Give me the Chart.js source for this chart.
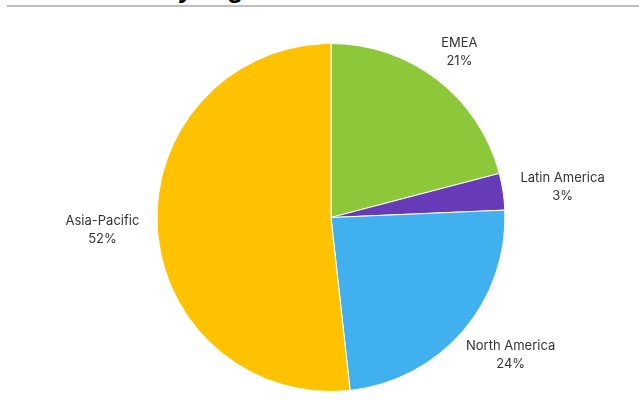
<!DOCTYPE html>
<html>
<head>
<meta charset="utf-8">
<script src="https://cdn.jsdelivr.net/npm/chart.js@4.4.0/dist/chart.umd.min.js"></script>
<style>
  html, body { margin: 0; padding: 0; background: #fff; overflow: hidden; }
  #wrap { position: relative; width: 639px; height: 419px; }
  #title {
    position: absolute; left: 7px; top: -25px;
    font: bold 24px Inter, sans-serif; color: #000; white-space: nowrap;
  }
  #rule { position: absolute; left: 7px; right: 0; top: 5px; height: 2px; background: #bfbfbf; }
  canvas { position: absolute; left: 0; top: 0; }
</style>
</head>
<body>
<div id="wrap">
  <div id="title">Revenue Mix by Region</div>
  <div id="rule"></div>
  <canvas id="chart" width="639" height="419"></canvas>
</div>
<script>
// Regions clockwise from 12 o'clock
const regions = ['EMEA', 'Latin America', 'North America', 'Asia-Pacific'];
const shares = [20.9, 3.4, 23.9, 51.7];
const sliceColors = ['#8cc83a', '#673ab7', '#41b0ee', '#ffc200'];

// Two-line outside labels: name, then rounded percent
const outsideLabels = {
  id: 'outsideLabels',
  afterDatasetsDraw(chart) {
    const ctx = chart.ctx;
    const meta = chart.getDatasetMeta(0);
    const lineH = 18;
    ctx.save();
    ctx.font = '13px Inter, sans-serif';
    ctx.fillStyle = '#333';
    ctx.textAlign = 'center';
    ctx.textBaseline = 'middle';
    meta.data.forEach((arc, i) => {
      const { x, y, startAngle, endAngle, outerRadius } = arc.getProps(['x', 'y', 'startAngle', 'endAngle', 'outerRadius']);
      const mid = (startAngle + endAngle) / 2;
      const dx = Math.cos(mid), dy = Math.sin(mid);
      const pct = Math.round(shares[i]) + '%';
      const w = Math.max(ctx.measureText(regions[i]).width, ctx.measureText(pct).width);
      const h = lineH * 2;
      const gap = 18;
      const ax = x + dx * (outerRadius + gap);
      const ay = y + dy * (outerRadius + gap);
      const cx = ax + dx * w / 2;
      const cy = ay + dy * h / 2 + 1;
      ctx.fillText(regions[i], cx, cy - lineH / 2);
      ctx.fillText(pct, cx, cy + lineH / 2);
    });
    ctx.restore();
  }
};

new Chart(document.getElementById('chart'), {
  type: 'pie',
  data: {
    labels: regions,
    datasets: [{
      data: shares,
      backgroundColor: sliceColors,
      borderColor: '#ffffff',
      borderWidth: 1
    }]
  },
  options: {
    responsive: false,
    animation: false,
    layout: { padding: { top: 43, bottom: 27, left: 23, right: 0 } },
    plugins: {
      legend: { display: false },
      tooltip: { enabled: false }
    }
  },
  plugins: [outsideLabels]
});
</script>
</body>
</html>
